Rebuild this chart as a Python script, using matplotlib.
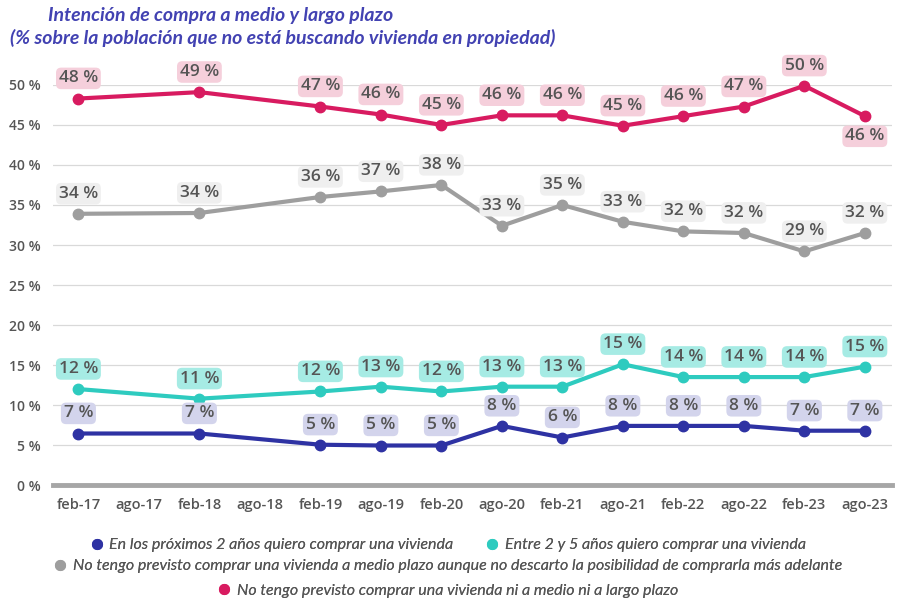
import numpy as np
import matplotlib.pyplot as plt
from matplotlib.lines import Line2D

plt.rcParams['font.family'] = ['Open Sans', 'DejaVu Sans']

periods = ["feb-17", "ago-17", "feb-18", "ago-18", "feb-19", "ago-19", "feb-20",
           "ago-20", "feb-21", "ago-21", "feb-22", "ago-22", "feb-23", "ago-23"]
# indices of periods with survey data (no ago-17 / ago-18)
obs = [0, 2, 4, 5, 6, 7, 8, 9, 10, 11, 12, 13]

proximos_2 = [6.45, 6.45, 5.05, 4.95, 4.95, 7.4, 5.95, 7.4, 7.4, 7.4, 6.8, 6.8]
entre_2_5 = [12.0, 10.8, 11.7, 12.3, 11.7, 12.3, 12.3, 15.1, 13.5, 13.5, 13.5, 14.8]
no_medio = [33.9, 34.0, 36.0, 36.7, 37.5, 32.4, 35.0, 32.9, 31.7, 31.5, 29.2, 31.5]
no_nunca = [48.3, 49.1, 47.3, 46.3, 45.0, 46.2, 46.2, 44.9, 46.1, 47.3, 49.9, 46.1]

lbl_2 = [7, 7, 5, 5, 5, 8, 6, 8, 8, 8, 7, 7]
lbl_25 = [12, 11, 12, 13, 12, 13, 13, 15, 14, 14, 14, 15]
lbl_medio = [34, 34, 36, 37, 38, 33, 35, 33, 32, 32, 29, 32]
lbl_nunca = [48, 49, 47, 46, 45, 46, 46, 45, 46, 47, 50, 46]

names = ["En los próximos 2 años quiero comprar una vivienda",
         "Entre 2 y 5 años quiero comprar una vivienda",
         "No tengo previsto comprar una vivienda a medio plazo aunque no descarto la posibilidad de comprarla más adelante",
         "No tengo previsto comprar una vivienda ni a medio ni a largo plazo"]

series = [
    (proximos_2, lbl_2, "#2e32a3", "#d3d4ec"),
    (entre_2_5, lbl_25, "#2ecbbf", "#a6ebe4"),
    (no_medio, lbl_medio, "#9e9e9e", "#efefef"),
    (no_nunca, lbl_nunca, "#d81b60", "#f5cfdb"),
]

fig = plt.figure(figsize=(9.14, 6.11), dpi=100)
ax = fig.add_axes([0.058, 0.206, 0.918, 0.655])

x = np.array(obs)
for vals, lbls, col, bg in series:
    ax.plot(x, vals, color=col, lw=3, marker="o", ms=7.5, zorder=3, clip_on=False)
    for i, (xi, v, l) in enumerate(zip(x, vals, lbls)):
        dy = 14.5
        if col == "#d81b60" and i == len(x) - 1:
            dy = -14.5
        ax.annotate(f"{l} %", (xi, v), xytext=(0, dy), textcoords="offset points",
                    ha="center", va="center", fontsize=12.5, fontweight="semibold",
                    color="#555555", zorder=4, annotation_clip=False,
                    bbox=dict(boxstyle="round,pad=0.16,rounding_size=0.3", fc=bg, ec="none"))

ax.set_xlim(-0.42, 13.45)
ax.set_ylim(0, 50)
ax.set_yticks(range(0, 51, 5))
ax.set_yticklabels([f"{t} %" for t in range(0, 51, 5)])
ax.set_xticks(range(len(periods)))
ax.set_xticklabels(periods)
for t in range(5, 51, 5):
    ax.axhline(t, color="#d9d9d9", lw=0.9, zorder=1)
ax.axhline(0, color="#a6a6a6", lw=3.5, zorder=2, clip_on=False)
for s in ax.spines.values():
    s.set_visible(False)
ax.tick_params(length=0)
ax.tick_params(axis="y", labelsize=10, labelcolor="#555555", pad=9)
ax.tick_params(axis="x", labelsize=10.5, labelcolor="#555555", pad=9)
for lab in ax.get_yticklabels() + ax.get_xticklabels():
    lab.set_fontweight("semibold")

fig.text(0.052, 0.975, "Intención de compra a medio y largo plazo", fontsize=14,
         style="italic", fontweight="bold", color="#4242b2", va="center",
         family=["Lato", "DejaVu Sans"])
fig.text(0.011, 0.938, "(% sobre la población que no está buscando vivienda en propiedad)",
         fontsize=14, style="italic", fontweight="bold", color="#4242b2", va="center",
         family=["Lato", "DejaVu Sans"])

cols = [s[2] for s in series]
handles = [Line2D([], [], ls="none", marker="o", ms=7, color=c) for c in cols]
rows = [([0, 1], 0.108), ([2], 0.073), ([3], 0.033)]
for idx, yy in rows:
    leg = fig.legend([handles[i] for i in idx], [names[i] for i in idx], loc="center",
                     bbox_to_anchor=(0.49, yy), ncol=len(idx), frameon=False,
                     handletextpad=0.4, columnspacing=2.0, handlelength=0.8,
                     prop=dict(size=11.5, style="italic", family=["Lato", "DejaVu Sans"]))
    for t in leg.get_texts():
        t.set_color("#555555")
    fig.add_artist(leg)

fig.savefig("out.png", dpi=100)
